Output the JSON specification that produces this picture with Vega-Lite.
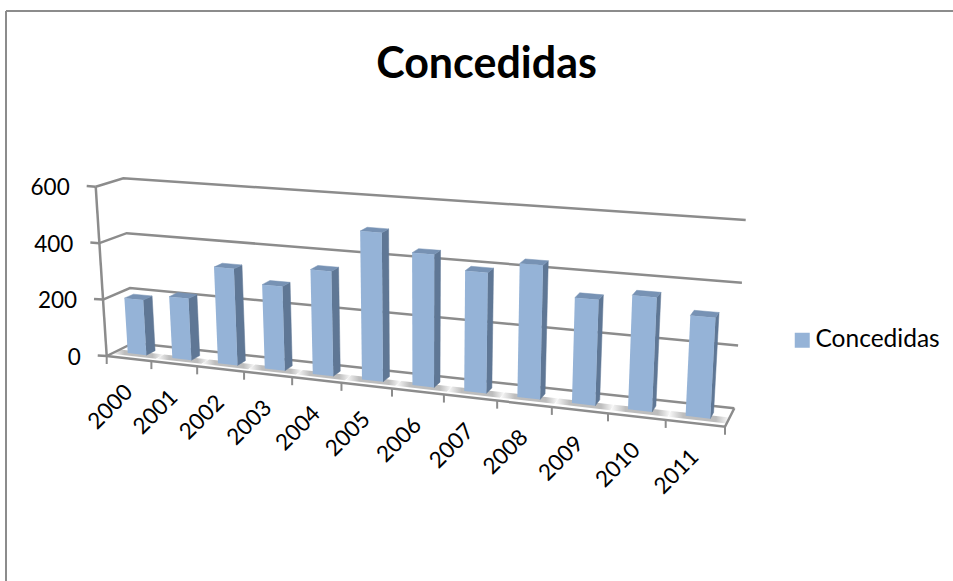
{
  "$schema": "https://vega.github.io/schema/vega-lite/v6.json",
  "width": 953,
  "height": 581,
  "padding": 0,
  "autosize": "none",
  "background": "white",
  "view": {"stroke": null},
  "title": {"text": "Concedidas", "font": "Lato", "fontWeight": "bold", "fontSize": 43, "color": "#000000", "anchor": "middle", "dx": 10, "dy": 121, "offset": 0, "baseline": "alphabetic"},
  "datasets": {
    "years": [
      {"year": 2000, "value": 196}, {"year": 2001, "value": 217}, {"year": 2002, "value": 336},
      {"year": 2003, "value": 290}, {"year": 2004, "value": 357}, {"year": 2005, "value": 502},
      {"year": 2006, "value": 443}, {"year": 2007, "value": 398}, {"year": 2008, "value": 437},
      {"year": 2009, "value": 341}, {"year": 2010, "value": 365}, {"year": 2011, "value": 317}
    ],
    "ticks": [{"tick": 0}, {"tick": 200}, {"tick": 400}, {"tick": 600}],
    "boundaries": [
      {"b": 0}, {"b": 1}, {"b": 2}, {"b": 3}, {"b": 4}, {"b": 5}, {"b": 6},
      {"b": 7}, {"b": 8}, {"b": 9}, {"b": 10}, {"b": 11}, {"b": 12}
    ],
    "edges": [{"edge": "floor"}]
  },
  "encoding": {
    "x": {"field": "px", "type": "quantitative", "axis": null, "scale": {"domain": [0, 953], "range": [0, 953], "nice": false, "zero": false}},
    "y": {"field": "py", "type": "quantitative", "axis": null, "scale": {"domain": [0, 581], "range": [0, 581], "nice": false, "zero": false}}
  },
  "layer": [
    {
      "data": {"values": [{"x0": 6, "x1": 953, "y0": 11, "y1": 11}, {"x0": 6, "x1": 6, "y0": 11, "y1": 581}]},
      "mark": {"type": "rule", "color": "#8c8c8c", "strokeWidth": 2},
      "encoding": {
        "x": {"field": "x0", "type": "quantitative", "axis": null, "scale": {"domain": [0, 953], "range": [0, 953], "nice": false, "zero": false}},
        "x2": {"field": "x1"},
        "y": {"field": "y0", "type": "quantitative", "axis": null, "scale": {"domain": [0, 581], "range": [0, 581], "nice": false, "zero": false}},
        "y2": {"field": "y1"}
      }
    },
    {
      "data": {"name": "years"},
      "transform": [
        {"calculate": "[0,1,2,3]", "as": "c"},
        {"flatten": ["c"]},
        {"calculate": "(datum.year-2000+[0,1,1,0][datum.c])/12", "as": "u"},
        {"calculate": "datum.u/(datum.u+1.167*(1-datum.u))", "as": "s"},
        {"calculate": "[.18,.18,.5,.5][datum.c]", "as": "d"},
        {"calculate": "0", "as": "v"},
        {"calculate": "(1-datum.d)*(106.7+618.3*datum.s+datum.v*(-11+21*datum.s))+datum.d*(133.3+601*datum.s+datum.v*(-10+21.4*datum.s))", "as": "px"},
        {"calculate": "(1-datum.d)*(356+70.7*datum.s+datum.v*(-169.3-23.7*datum.s))+datum.d*(343+65.3*datum.s+datum.v*(-164.7-23.6*datum.s))", "as": "py"}
      ],
      "mark": {
        "type": "line", "interpolate": "linear-closed", "strokeWidth": 0,
        "fill": {"gradient": "linear", "x1": 0, "y1": 0, "x2": 1, "y2": 0, "stops": [
          {"offset": 0, "color": "#ffffff"}, {"offset": 0.25, "color": "#bdbdbd"},
          {"offset": 0.78, "color": "#bdbdbd"}, {"offset": 1, "color": "#ffffff"}
        ]}
      },
      "encoding": {"detail": {"field": "year"}, "order": {"field": "c"}}
    },
    {
      "data": {"name": "ticks"},
      "transform": [
        {"calculate": "[0,1,2]", "as": "c"},
        {"flatten": ["c"]},
        {"calculate": "[0,0,1][datum.c]", "as": "s"},
        {"calculate": "[0,1,1][datum.c]", "as": "d"},
        {"calculate": "datum.tick/600", "as": "v"},
        {"calculate": "(1-datum.d)*(106.7+618.3*datum.s+datum.v*(-11+21*datum.s))+datum.d*(133.3+601*datum.s+datum.v*(-10+21.4*datum.s))", "as": "px"},
        {"calculate": "(1-datum.d)*(356+70.7*datum.s+datum.v*(-169.3-23.7*datum.s))+datum.d*(343+65.3*datum.s+datum.v*(-164.7-23.6*datum.s))", "as": "py"}
      ],
      "mark": {"type": "line", "color": "#8c8c8c", "strokeWidth": 2.5},
      "encoding": {"detail": {"field": "tick"}, "order": {"field": "c"}}
    },
    {
      "data": {"name": "ticks"},
      "transform": [
        {"calculate": "[0,1]", "as": "c"},
        {"flatten": ["c"]},
        {"calculate": "0", "as": "s"},
        {"calculate": "0", "as": "d"},
        {"calculate": "datum.tick/600", "as": "v"},
        {"calculate": "(1-datum.d)*(106.7+618.3*datum.s+datum.v*(-11+21*datum.s))+datum.d*(133.3+601*datum.s+datum.v*(-10+21.4*datum.s))-9*datum.c", "as": "px"},
        {"calculate": "(1-datum.d)*(356+70.7*datum.s+datum.v*(-169.3-23.7*datum.s))+datum.d*(343+65.3*datum.s+datum.v*(-164.7-23.6*datum.s))-0.6*datum.c", "as": "py"}
      ],
      "mark": {"type": "line", "color": "#8c8c8c", "strokeWidth": 2.5},
      "encoding": {"detail": {"field": "tick"}, "order": {"field": "c"}}
    },
    {
      "data": {"name": "edges"},
      "transform": [
        {"calculate": "[0,1,2]", "as": "c"},
        {"flatten": ["c"]},
        {"calculate": "[0,1,1][datum.c]", "as": "s"},
        {"calculate": "[0,0,1][datum.c]", "as": "d"},
        {"calculate": "0", "as": "v"},
        {"calculate": "(1-datum.d)*(106.7+618.3*datum.s+datum.v*(-11+21*datum.s))+datum.d*(133.3+601*datum.s+datum.v*(-10+21.4*datum.s))", "as": "px"},
        {"calculate": "(1-datum.d)*(356+70.7*datum.s+datum.v*(-169.3-23.7*datum.s))+datum.d*(343+65.3*datum.s+datum.v*(-164.7-23.6*datum.s))", "as": "py"}
      ],
      "mark": {"type": "line", "color": "#8c8c8c", "strokeWidth": 2.5},
      "encoding": {"order": {"field": "c"}}
    },
    {
      "data": {"name": "edges"},
      "transform": [
        {"calculate": "[0,1]", "as": "c"},
        {"flatten": ["c"]},
        {"calculate": "0", "as": "s"},
        {"calculate": "0", "as": "d"},
        {"calculate": "datum.c", "as": "v"},
        {"calculate": "(1-datum.d)*(106.7+618.3*datum.s+datum.v*(-11+21*datum.s))+datum.d*(133.3+601*datum.s+datum.v*(-10+21.4*datum.s))", "as": "px"},
        {"calculate": "(1-datum.d)*(356+70.7*datum.s+datum.v*(-169.3-23.7*datum.s))+datum.d*(343+65.3*datum.s+datum.v*(-164.7-23.6*datum.s))", "as": "py"}
      ],
      "mark": {"type": "line", "color": "#8c8c8c", "strokeWidth": 2.5},
      "encoding": {"order": {"field": "c"}}
    },
    {
      "data": {"name": "boundaries"},
      "transform": [
        {"calculate": "[0,1]", "as": "c"},
        {"flatten": ["c"]},
        {"calculate": "datum.b/12", "as": "u"},
        {"calculate": "datum.u/(datum.u+1.167*(1-datum.u))", "as": "s"},
        {"calculate": "106.7+618.3*datum.s", "as": "px"},
        {"calculate": "356+70.7*datum.s+8*datum.c", "as": "py"}
      ],
      "mark": {"type": "line", "color": "#8c8c8c", "strokeWidth": 2},
      "encoding": {"detail": {"field": "b"}, "order": {"field": "c"}}
    },
    {
      "data": {"name": "years"},
      "transform": [
        {"calculate": "[0,1,2,3]", "as": "c"},
        {"flatten": ["c"]},
        {"calculate": "(datum.year-2000+0.7)/12", "as": "u"},
        {"calculate": "datum.u/(datum.u+1.167*(1-datum.u))", "as": "s"},
        {"calculate": "[.33,.67,.67,.33][datum.c]", "as": "d"},
        {"calculate": "[0,0,1,1][datum.c]*datum.value/600", "as": "v"},
        {"calculate": "(1-datum.d)*(106.7+618.3*datum.s+datum.v*(-11+21*datum.s))+datum.d*(133.3+601*datum.s+datum.v*(-10+21.4*datum.s))", "as": "px"},
        {"calculate": "(1-datum.d)*(356+70.7*datum.s+datum.v*(-169.3-23.7*datum.s))+datum.d*(343+65.3*datum.s+datum.v*(-164.7-23.6*datum.s))", "as": "py"}
      ],
      "mark": {"type": "line", "interpolate": "linear-closed", "fill": "#5f7795", "color": "#5f7795", "strokeWidth": 0.5},
      "encoding": {"detail": {"field": "year"}, "order": {"field": "c"}}
    },
    {
      "data": {"name": "years"},
      "transform": [
        {"calculate": "[0,1,2,3]", "as": "c"},
        {"flatten": ["c"]},
        {"calculate": "(datum.year-2000+[.28,.7,.7,.28][datum.c])/12", "as": "u"},
        {"calculate": "datum.u/(datum.u+1.167*(1-datum.u))", "as": "s"},
        {"calculate": "[.33,.33,.67,.67][datum.c]", "as": "d"},
        {"calculate": "datum.value/600", "as": "v"},
        {"calculate": "(1-datum.d)*(106.7+618.3*datum.s+datum.v*(-11+21*datum.s))+datum.d*(133.3+601*datum.s+datum.v*(-10+21.4*datum.s))", "as": "px"},
        {"calculate": "(1-datum.d)*(356+70.7*datum.s+datum.v*(-169.3-23.7*datum.s))+datum.d*(343+65.3*datum.s+datum.v*(-164.7-23.6*datum.s))", "as": "py"}
      ],
      "mark": {"type": "line", "interpolate": "linear-closed", "fill": "#7792b4", "color": "#7792b4", "strokeWidth": 0.5},
      "encoding": {"detail": {"field": "year"}, "order": {"field": "c"}}
    },
    {
      "data": {"name": "years"},
      "transform": [
        {"calculate": "[0,1,2,3]", "as": "c"},
        {"flatten": ["c"]},
        {"calculate": "(datum.year-2000+[.28,.7,.7,.28][datum.c])/12", "as": "u"},
        {"calculate": "datum.u/(datum.u+1.167*(1-datum.u))", "as": "s"},
        {"calculate": "0.33", "as": "d"},
        {"calculate": "[0,0,1,1][datum.c]*datum.value/600", "as": "v"},
        {"calculate": "(1-datum.d)*(106.7+618.3*datum.s+datum.v*(-11+21*datum.s))+datum.d*(133.3+601*datum.s+datum.v*(-10+21.4*datum.s))", "as": "px"},
        {"calculate": "(1-datum.d)*(356+70.7*datum.s+datum.v*(-169.3-23.7*datum.s))+datum.d*(343+65.3*datum.s+datum.v*(-164.7-23.6*datum.s))", "as": "py"},
        {"calculate": "'Concedidas'", "as": "series"}
      ],
      "mark": {"type": "line", "interpolate": "linear-closed", "strokeWidth": 0},
      "encoding": {
        "detail": {"field": "year"},
        "order": {"field": "c"},
        "fill": {
          "field": "series", "type": "nominal",
          "scale": {"range": ["#95b3d7"]},
          "legend": {"title": null, "orient": "none", "legendX": 790, "legendY": 328, "symbolType": "square", "symbolSize": 225, "symbolStrokeWidth": 0, "labelFont": "Lato", "labelFontSize": 24.5, "labelColor": "#000000", "labelOffset": 1}
        }
      }
    },
    {
      "data": {"name": "ticks"},
      "transform": [
        {"calculate": "datum.tick/600", "as": "v"},
        {"calculate": "106.7-11*datum.v-26", "as": "px"},
        {"calculate": "356-169.3*datum.v+1.5", "as": "py"}
      ],
      "mark": {"type": "text", "align": "right", "baseline": "middle", "font": "Lato", "fontSize": 22.5, "color": "#000000"},
      "encoding": {"text": {"field": "tick", "type": "quantitative", "format": "d"}}
    },
    {
      "data": {"name": "years"},
      "transform": [
        {"calculate": "(datum.year-2000+0.5)/12", "as": "u"},
        {"calculate": "datum.u/(datum.u+1.167*(1-datum.u))", "as": "s"},
        {"calculate": "106.7+618.3*datum.s", "as": "px"},
        {"calculate": "356+70.7*datum.s+30", "as": "py"}
      ],
      "mark": {"type": "text", "align": "right", "baseline": "middle", "angle": 315, "font": "Lato", "fontSize": 22.5, "color": "#000000"},
      "encoding": {"text": {"field": "year", "type": "ordinal"}}
    }
  ]
}
